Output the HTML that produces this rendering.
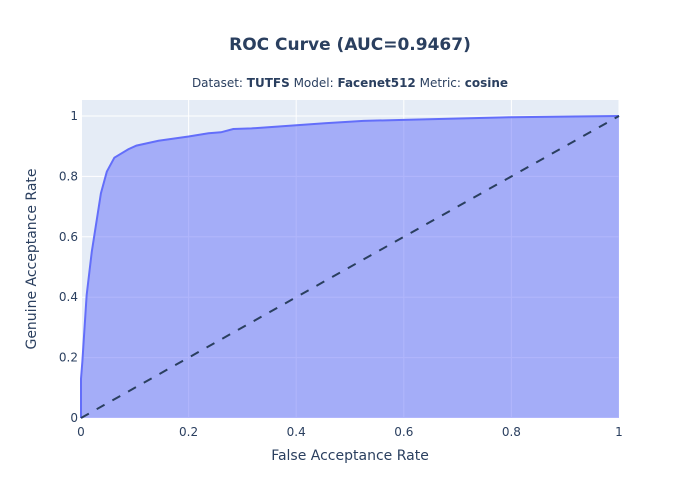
<!DOCTYPE html>
<html><head><meta charset="utf-8"><style>
body{margin:0;background:#fff;font-family:"DejaVu Sans","Liberation Sans",sans-serif}
svg text{fill:#2a3f5f}
</style></head><body>
<svg id="chart" width="700" height="500" xmlns="http://www.w3.org/2000/svg" font-family="DejaVu Sans, Liberation Sans, sans-serif">
<rect x="81" y="100" width="538" height="318" fill="#E5ECF6"/>
<g id="grid"></g>
<path id="area" fill="rgba(99,110,250,0.5)" stroke="none"/>
<path id="line" fill="none" stroke="#636efa" stroke-width="2"/>
<line id="diag" stroke="#2a3f5f" stroke-width="2" stroke-dasharray="9,9"/>
<g id="ticks"></g>
<text x="350" y="50" text-anchor="middle" font-size="17" font-weight="bold">ROC Curve (AUC=0.9467)</text>
<text x="350" y="87" text-anchor="middle" font-size="12">Dataset: <tspan font-weight="bold">TUTFS</tspan> Model: <tspan font-weight="bold">Facenet512</tspan> Metric: <tspan font-weight="bold">cosine</tspan></text>
<text x="350" y="460" text-anchor="middle" font-size="14">False Acceptance Rate</text>
<text transform="translate(36,259) rotate(-90)" text-anchor="middle" font-size="14">Genuine Acceptance Rate</text>
</svg>
<script>
const fpr=[0,0,0.0025,0.0105,0.02,0.037,0.048,0.062,0.088,0.103,0.144,0.2,0.237,0.26,0.283,0.317,0.407,0.453,0.525,0.6,0.797,0.9,1];
const tpr=[0,0.13,0.186,0.407,0.55,0.744,0.816,0.862,0.89,0.902,0.918,0.932,0.943,0.946,0.957,0.959,0.970,0.976,0.984,0.987,0.996,0.998,1];
const tickVals=[0,0.2,0.4,0.6,0.8,1];
const tickLabels=["0","0.2","0.4","0.6","0.8","1"];
const X=v=>81+v*538, Y=v=>418-v*302;
const ns="http://www.w3.org/2000/svg";
const grid=document.getElementById('grid'), ticks=document.getElementById('ticks');
tickVals.forEach((t,i)=>{
  const gx=document.createElementNS(ns,'line');
  
  
  gx.setAttribute('x1',X(t));gx.setAttribute('x2',X(t));gx.setAttribute('y1',100);gx.setAttribute('y2',418);
  gx.setAttribute('stroke','#fff');gx.setAttribute('stroke-width',t===0?2:1);grid.appendChild(gx);
  const gy=document.createElementNS(ns,'line');
  
  
  gy.setAttribute('x1',81);gy.setAttribute('x2',619);gy.setAttribute('y1',Y(t));gy.setAttribute('y2',Y(t));
  gy.setAttribute('stroke','#fff');gy.setAttribute('stroke-width',t===0?2:1);grid.appendChild(gy);
  const tx=document.createElementNS(ns,'text');
  
  
  tx.setAttribute('x',X(t));tx.setAttribute('y',436);tx.setAttribute('text-anchor','middle');tx.setAttribute('font-size','12');
  tx.textContent=tickLabels[i];ticks.appendChild(tx);
  const ty=document.createElementNS(ns,'text');
  
  
  ty.setAttribute('x',78);ty.setAttribute('y',Y(t)+4);ty.setAttribute('text-anchor','end');ty.setAttribute('font-size','12');
  ty.textContent=tickLabels[i];ticks.appendChild(ty);
});
let d=fpr.map((f,i)=>(i?'L':'M')+X(f)+','+Y(tpr[i])).join(' ');
document.getElementById('line').setAttribute('d',d);
document.getElementById('area').setAttribute('d',d+' L'+X(fpr[fpr.length-1])+','+Y(0)+' L'+X(fpr[0])+','+Y(0)+' Z');
const dg=document.getElementById('diag');
dg.setAttribute('x1',X(0));dg.setAttribute('y1',Y(0));dg.setAttribute('x2',X(1));dg.setAttribute('y2',Y(1));
</script>
</body></html>
